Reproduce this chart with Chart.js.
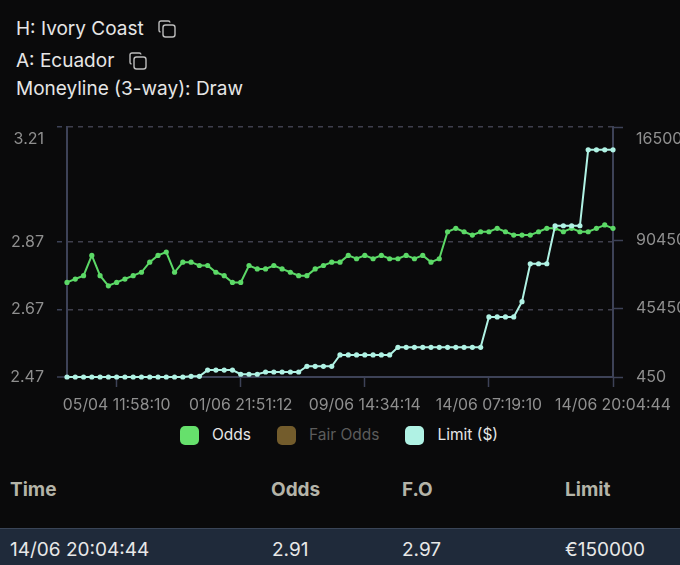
<!DOCTYPE html>
<html>
<head>
<meta charset="utf-8">
<script src="https://cdn.jsdelivr.net/npm/chart.js@4/dist/chart.umd.min.js"></script>
<style>
  html, body { margin: 0; background: #0a0a0b; }
  body { position: relative; width: 680px; height: 565px; overflow: hidden; font-family: Inter, sans-serif; color: #e6e6e6; }
  .info { position: absolute; left: 16px; font-size: 19px; line-height: 24px; white-space: nowrap; }
  .info svg { position: absolute; top: 3px; }
  #chart { position: absolute; left: 0; top: 110px; }
  #legend { position: absolute; left: 180px; top: 425px; display: flex; gap: 26px; font-size: 15.5px; line-height: 20px; }
  #legend div { display: flex; align-items: center; }
  #legend i { display: block; width: 19px; height: 19px; border-radius: 5px; margin-right: 13px; }
  .cell { position: absolute; white-space: nowrap; line-height: 24px; }
  .head { top: 478px; font-size: 19px; font-weight: 700; color: #b4b4a8; }
  .row { position: absolute; left: 0; top: 528px; width: 680px; height: 37px; background: #1f2a3a; border-top: 1px solid #3a4557; box-sizing: border-box; }
  .val { top: 538px; font-size: 19px; color: #e8e8e8; }
</style>
</head>
<body>
<div class="info" style="top:17px">H: Ivory Coast <svg style="left:142px" width="18" height="18" viewBox="0 0 18 18" fill="none" stroke="#bdbdbd" stroke-width="1.4"><rect x="5" y="5" width="12" height="12" rx="2.5"/><path d="M2.5 12 A1.8 1.8 0 0 1 1 10.2 V3 A2 2 0 0 1 3 1 H10.2 A1.8 1.8 0 0 1 12 2.5"/></svg></div>
<div class="info" style="top:49px">A: Ecuador <svg style="left:113px" width="18" height="18" viewBox="0 0 18 18" fill="none" stroke="#bdbdbd" stroke-width="1.4"><rect x="5" y="5" width="12" height="12" rx="2.5"/><path d="M2.5 12 A1.8 1.8 0 0 1 1 10.2 V3 A2 2 0 0 1 3 1 H10.2 A1.8 1.8 0 0 1 12 2.5"/></svg></div>
<div class="info" style="top:77px">Moneyline (3-way): Draw</div>

<canvas id="chart" width="680" height="308"></canvas>
<div id="legend"></div>

<div class="cell head" style="left:10px">Time</div>
<div class="cell head" style="left:271px">Odds</div>
<div class="cell head" style="left:402px">F.O</div>
<div class="cell head" style="left:565px">Limit</div>
<div class="row"></div>
<div class="cell val" style="left:10px">14/06 20:04:44</div>
<div class="cell val" style="left:272px">2.91</div>
<div class="cell val" style="left:402px">2.97</div>
<div class="cell val" style="left:565px">€150000</div>

<script>
// only the labelled timestamps can be read, the rest stay blank
const times = [
  '', '', '', '', '', '', '05/04 11:58:10',
  '', '', '', '', '', '', '', '', '', '', '', '', '', '', '01/06 21:51:12',
  '', '', '', '', '', '', '', '', '', '', '', '', '', '', '09/06 14:34:14',
  '', '', '', '', '', '', '', '', '', '', '', '', '', '', '14/06 07:19:10',
  '', '', '', '', '', '', '', '', '', '', '', '', '', '', '14/06 20:04:44'
]

const odds = [
  2.75, 2.76, 2.77, 2.83, 2.77, 2.74, 2.75, 2.76, 2.77, 2.78, 2.81, 2.83, 2.84, 2.78, 2.81, 2.81, 2.80,
  2.80, 2.78, 2.77, 2.75, 2.75, 2.80, 2.79, 2.79, 2.80, 2.79, 2.78, 2.77, 2.77, 2.79, 2.80, 2.81, 2.81,
  2.83, 2.82, 2.83, 2.82, 2.83, 2.82, 2.82, 2.83, 2.82, 2.83, 2.81, 2.82, 2.90, 2.91, 2.90, 2.89, 2.90,
  2.90, 2.91, 2.90, 2.89, 2.89, 2.89, 2.90, 2.91, 2.91, 2.90, 2.91, 2.90, 2.90, 2.91, 2.92, 2.91
]

const limits = [
  450, 450, 450, 450, 450, 450, 450, 450, 450, 450, 450, 450, 450, 450, 450, 900, 900,
  5000, 5000, 5000, 5000, 2250, 2250, 2250, 3750, 3750, 3750, 3750, 3750, 7500, 7500, 7500, 7500,
  15000, 15000, 15000, 15000, 15000, 15000, 15000, 20000, 20000, 20000, 20000, 20000, 20000, 20000,
  20000, 20000, 20000, 20000, 40000, 40000, 40000, 40000, 50000, 75000, 75000, 75000,
  100000, 100000, 100000, 100000, 150000, 150000, 150000, 150000
]

// hidden in the reference, nothing to read
const fairOdds = []

const oddsTicks = [2.47, 2.67, 2.87, 3.21]
const limitTicks = [450, 45450, 90450, 165000]

const axisColor = '#3d4257'
const dashColor = '#3f3f4d'
const tickFont = { family: 'Inter', size: 16, lineHeight: 1.5 }

const setTicks = list => scale => { scale.ticks = list.map(value => ({ value })) }
// top label sits below its line, the empty first line pushes it down
const tickText = top => value => value === top ? ['', String(value)] : String(value)
const isBottom = ctx => ctx.index === 0
// fixed gutter, and no room reserved for the taller top label
const fitSide = s => { s.width = 67; s.paddingTop = 0; s.paddingBottom = 0 }

const chart = new Chart(document.getElementById('chart'), {
  type: 'line',
  data: {
    labels: times,
    datasets: [
      { label: 'Odds', data: odds, yAxisID: 'y', order: 2, borderColor: '#5cd967', backgroundColor: '#5cd967', legendColor: '#66e06c', textColor: '#e6e6e6' },
      { label: 'Fair Odds', data: fairOdds, yAxisID: 'y', order: 3, borderColor: '#6f5a2c', backgroundColor: '#6f5a2c', legendColor: '#735c2c', textColor: '#5c5c5c' },
      { label: 'Limit ($)', data: limits, yAxisID: 'y1', order: 1, borderColor: '#b0f2e4', backgroundColor: '#b0f2e4', legendColor: '#b0f2e4', textColor: '#e6e6e6' }
    ]
  },
  options: {
    responsive: false,
    animation: false,
    clip: false,
    layout: { autoPadding: false, padding: { top: 17 } },
    elements: {
      line: { borderWidth: 2, tension: 0 },
      point: { radius: 2.6, borderWidth: 0 }
    },
    scales: {
      x: {
        afterBuildTicks: scale => { scale.ticks = times.map((t, i) => ({ value: i, t })).filter(o => o.t) },
        afterFit: s => { s.height = 41 },
        border: { color: axisColor, width: 2 },
        grid: { drawOnChartArea: false, tickLength: 10, tickColor: axisColor, tickWidth: 1.5 },
        ticks: { autoSkip: false, maxRotation: 0, minRotation: 0, padding: 9, color: '#8f8f8f', font: { family: 'Inter', size: 15.8 } }
      },
      y: {
        position: 'left',
        min: 2.47,
        max: 3.21,
        afterBuildTicks: setTicks(oddsTicks),
        afterFit: fitSide,
        border: { color: axisColor, width: 2, dash: [5, 5] },
        grid: {
          color: dashColor,
          lineWidth: ctx => isBottom(ctx) ? 0 : 1.5,
          tickLength: 10,
          tickColor: axisColor,
          tickWidth: 1.5,
          tickBorderDash: ctx => isBottom(ctx) ? [] : [5, 5]
        },
        ticks: { padding: 13, color: '#8f8f8f', font: tickFont, callback: tickText(3.21) }
      },
      y1: {
        position: 'right',
        min: 450,
        max: 165000,
        afterBuildTicks: setTicks(limitTicks),
        afterFit: fitSide,
        border: { color: axisColor, width: 2 },
        grid: { drawOnChartArea: false, tickLength: 10, tickColor: axisColor, tickWidth: 1.5 },
        ticks: { padding: 13, color: '#8f8f8f', font: tickFont, callback: tickText(165000) }
      }
    },
    plugins: {
      tooltip: { enabled: false },
      legend: { display: false }
    }
  }
})

// html legend, the boxes sit further from the text than the built-in one allows
document.getElementById('legend').innerHTML = chart.data.datasets.map(ds =>
  `<div style="color:${ds.textColor}"><i style="background:${ds.legendColor}"></i>${ds.label}</div>`
).join('')
</script>
</body>
</html>
